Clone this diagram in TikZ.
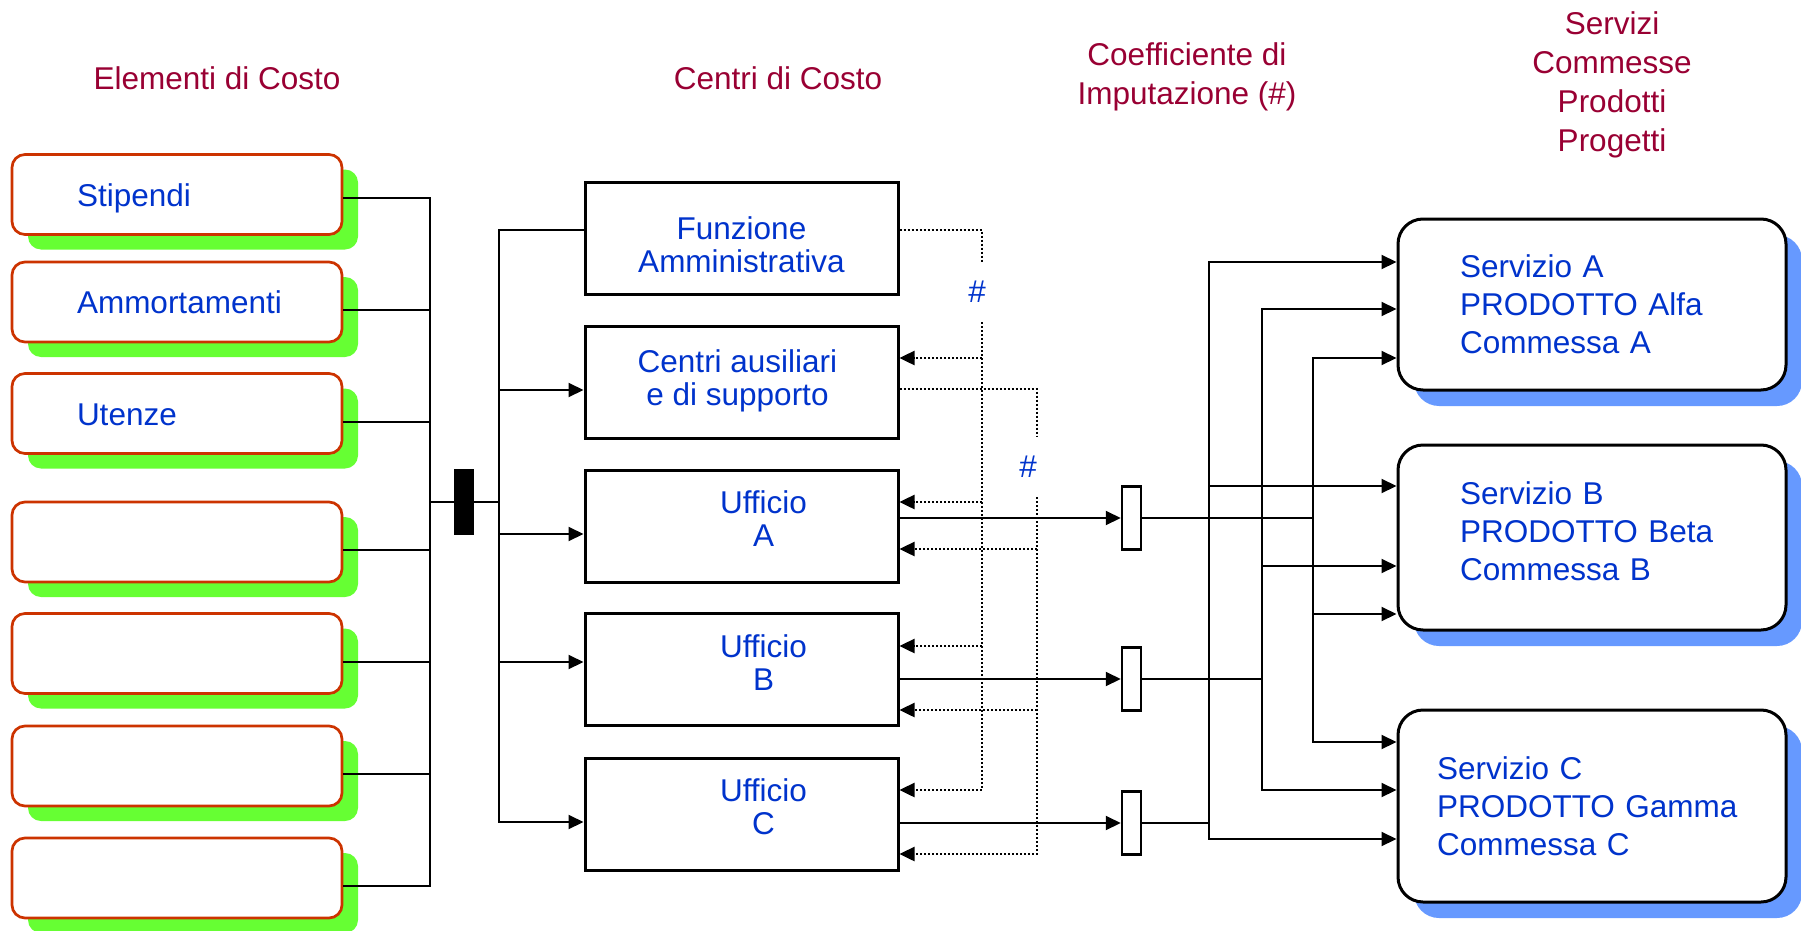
\documentclass[tikz,border=0pt]{standalone}
\usepackage{fontspec}
\setmainfont{Liberation Sans}
\usepackage{tikz}
\usetikzlibrary{arrows.meta, shadows, calc}

\definecolor{rossoscuro}{HTML}{990033}
\definecolor{blutesto}{HTML}{0033CC}
\definecolor{arancio}{HTML}{CC3300}
\definecolor{verde}{HTML}{66FF33}
\definecolor{azzurro}{HTML}{6699FF}

\begin{document}
\begin{tikzpicture}[
  x=1pt, y=-1pt,
  font=\fontsize{31.5}{38}\selectfont,
  titolo/.style={
    text=rossoscuro,
    align=center,
    font=\fontsize{31.5}{39}\selectfont
  },
  elemento/.style={
    draw=arancio,
    line width=2.7pt,
    rounded corners=13pt,
    fill=white,
    minimum width=330pt,
    minimum height=80pt,
    text width=200pt,
    text height=23pt,
    text depth=0pt,
    align=flush left,
    text=blutesto,
    drop shadow={shadow xshift=16pt, shadow yshift=-15pt, fill=verde, opacity=1}
  },
  centro/.style={
    draw=black,
    line width=3pt,
    fill=white,
    minimum width=313pt,
    minimum height=112pt
  },
  scritta/.style={
    text=blutesto,
    align=center,
    font=\fontsize{31.5}{33}\selectfont
  },
  ufficio/.style n args={3}{
    centro,
    label={[scritta, xshift=#2, yshift=#3]center:#1}
  },
  barra/.style={
    fill=black,
    inner sep=0pt,
    minimum width=20pt,
    minimum height=66pt
  },
  coeff/.style={
    draw=black,
    line width=2.5pt,
    fill=white,
    inner sep=0pt,
    minimum width=19pt,
    minimum height=63pt
  },
  servizio/.style={
    draw=black,
    line width=3pt,
    rounded corners=25pt,
    fill=white,
    minimum width=388pt,
    text width=264pt,
    align=left,
    text=blutesto,
    drop shadow={shadow xshift=16pt, shadow yshift=-16pt, fill=azzurro, opacity=1}
  },
  cancelletto/.style={
    text=blutesto,
    inner xsep=2pt,
    inner ysep=19.5pt
  },
  linea/.style={line width=2pt},
  freccia/.style={linea, -{Triangle[length=15pt, width=14pt]}},
  doppia/.style={linea, {Triangle[length=15pt, width=14pt]}-{Triangle[length=15pt, width=14pt]}},
  punti/.style={line width=2.5pt, dash pattern=on 2pt off 2pt},
  puntina/.style={punti, -{Triangle[length=15pt, width=14pt]}}
]
  \useasboundingbox (0,0) rectangle (1801,931);

  \node[titolo] (t1) at (217,78) {Elementi di Costo};
  \node[titolo] (t2) at (778,78) {Centri di Costo};
  \node[titolo] (t3) at (1187,77) {Coefficiente di\\Imputazione (\#)};
  \node[titolo] (t4) at (1612,85) {Servizi\\Commesse\\Prodotti\\Progetti};

  \foreach \n/\y/\lab in {e1/194.5/Stipendi, e2/302/Ammortamenti, e3/413.5/Utenze, e4/542/, e5/653.5/, e6/766/, e7/878/} {
    \node[elemento] (\n) at (177,\y) {\lab};
  }

  \node[ufficio={Funzione\\Amministrativa}{0pt}{-7pt}] (f) at (741.5,238) {};
  \node[ufficio={Centri ausiliari\\e di supporto}{-4pt}{1pt}] (aus) at (741.5,382) {};
  \node[ufficio={Ufficio\\A}{22pt}{7pt}] (ua) at (741.5,526) {};
  \node[ufficio={Ufficio\\B}{22pt}{7pt}] (ub) at (741.5,669.5) {};
  \node[ufficio={Ufficio\\C}{22pt}{7pt}] (uc) at (741.5,814) {};

  \node[barra] (sb) at (464,502) {};

  \node[coeff] (k1) at (1131.5,518) {};
  \node[coeff] (k2) at (1131.5,679) {};
  \node[coeff] (k3) at (1131.5,823) {};

  \node[servizio, minimum height=171pt] (s1) at (1592,304.5) {Servizio A\\PRODOTTO Alfa\\Commessa A};
  \node[servizio, minimum height=185pt, text height=11pt] (s2) at (1592,537.5) {Servizio B\\PRODOTTO Beta\\Commessa B};
  \node[servizio, minimum height=192pt, text width=310pt] (s3) at (1592,806) {Servizio C\\PRODOTTO Gamma\\Commessa C};

  \node[cancelletto] (h1) at (977,292) {\#};
  \node[cancelletto] (h2) at (1028,467) {\#};

  \coordinate (tL) at (430,198);
  \coordinate (tM) at (499,230);
  \coordinate (d1) at (982,230);
  \coordinate (d2) at (1037,389);
  \coordinate (b1) at (1209,262);
  \coordinate (b2) at (1262,309);
  \coordinate (b3) at (1313,358);

  \draw[linea] (e1.east |- tL) -- (tL) |- ([yshift=-8pt]e7.east);
  \foreach \n in {e2, e3, e4, e5, e6} {
    \draw[linea] ([yshift=-8pt]\n.east) -- ([yshift=-8pt]\n.east -| tL);
  }
  \draw[linea] (sb -| tL) -- (sb -| tM);

  \draw[freccia] (f.west |- tM) -- (tM) |- ([yshift=-8pt]uc.west);
  \foreach \n/\d in {aus/-8, ua/-8, ub/7.5} {
    \draw[freccia] ([yshift=\d pt]\n.west -| tM) -- ([yshift=\d pt]\n.west);
  }

  \draw[punti] (f.east |- d1) -- (d1) -- (h1.north -| d1);
  \draw[puntina] (h1.south -| d1) |- ([yshift=24pt]uc.east);
  \foreach \n/\d in {aus/24, ua/24, ub/23.5} {
    \draw[puntina] ([yshift=\d pt]\n.east -| d1) -- ([yshift=\d pt]\n.east);
  }
  \draw[punti] (aus.east |- d2) -- (d2) -- (h2.north -| d2);
  \draw[puntina] (h2.south -| d2) |- ([yshift=-40pt]uc.east);
  \foreach \n/\d in {ua/-23, ub/-40.5} {
    \draw[puntina] ([yshift=\d pt]\n.east -| d2) -- ([yshift=\d pt]\n.east);
  }

  \foreach \u/\k in {ua/k1, ub/k2, uc/k3} {
    \draw[freccia] (\u.east |- \k) -- (\k);
  }
  \foreach \k/\b in {k1/b3, k2/b2, k3/b1} {
    \draw[linea] (\k.east) -- (\k.east -| \b);
  }

  \draw[doppia] (b1 -| s1.west) -- (b1) |- ([yshift=-33pt]s3.west);
  \draw[doppia] (b2 -| s1.west) -- (b2) |- ([yshift=16pt]s3.west);
  \draw[doppia] (b3 -| s1.west) -- (b3) |- ([yshift=64pt]s3.west);
  \foreach \b/\d in {b1/51.5, b2/-28.5, b3/-76.5} {
    \draw[freccia] ([yshift=\d pt]s2.west -| \b) -- ([yshift=\d pt]s2.west);
  }
\end{tikzpicture}
\end{document}
